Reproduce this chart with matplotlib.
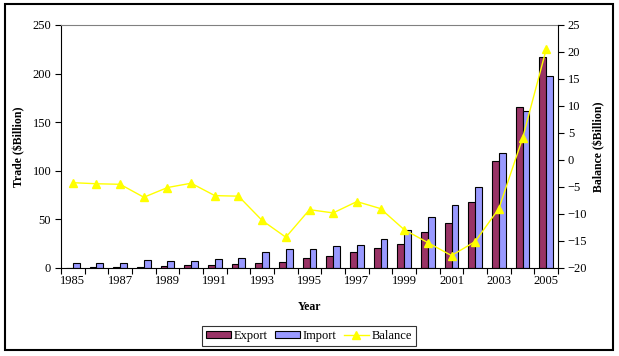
import matplotlib.pyplot as plt
import numpy as np
from matplotlib.patches import Rectangle

years = list(range(1985, 2006))
export = [0.5, 0.8, 1, 1, 2, 3, 3, 4, 5, 6, 10.3, 12, 16, 20.5, 24.7, 37, 46.2, 67.8, 110, 165.4, 217.5]
imports = [5, 5, 5, 8, 7, 7, 9, 10, 16, 20, 19.5, 22.3, 23.3, 29.8, 38.7, 52.4, 64.4, 83.2, 118.2, 161.3, 197.3]
balance = [-4.2, -4.4, -4.5, -6.9, -5.1, -4.3, -6.6, -6.7, -11.2, -14.3, -9.2, -9.8, -7.7, -9.0, -12.9, -15.3, -17.7, -15.1, -9.0, 4.0, 20.5]

plt.rcParams['font.family'] = ['Liberation Serif', 'DejaVu Serif']
plt.rcParams['font.size'] = 9

fig = plt.figure(figsize=(6.19, 3.56), dpi=100)
ax = fig.add_axes([0.0985, 0.2472, 0.803, 0.6826])
x = np.arange(len(years))
w = 0.29

b1 = ax.bar(x - w / 2, export, w, color='#993366', edgecolor='black', linewidth=0.8, label='Export')
b2 = ax.bar(x + w / 2, imports, w, color='#9999FF', edgecolor='black', linewidth=0.8, label='Import')
ax.set_xlim(-0.5, len(years) - 0.5)
ax.set_ylim(0, 250)
ax.set_yticks(range(0, 251, 50))
ax.set_xticks(np.arange(-0.5, len(years), 1))
ax.set_xticklabels([])
ax.set_xticks(x[::2], minor=True)
ax.set_xticklabels([str(y) for y in years[::2]], minor=True)
ax.tick_params(axis='x', which='minor', length=0, pad=5)
ax.tick_params(axis='x', which='major', length=4, direction='out')
ax.tick_params(axis='y', length=4, direction='out', pad=3)
ax.spines['top'].set_color('#808080')
ax.spines['right'].set_visible(False)
ax.set_ylabel('Trade ($Billion)', fontweight='bold', fontsize=8.5)
ax.yaxis.set_label_coords(-0.072, 0.5)
ax.set_xlabel('Year', fontweight='bold', fontsize=8.5)
ax.xaxis.set_label_coords(0.5, -0.135)

ax2 = ax.twinx()
l1, = ax2.plot(x, balance, color='#FFFF00', marker='^', markersize=5.5, linewidth=1, label='Balance')
ax2.set_ylim(-20, 25)
ax2.set_yticks(range(-20, 26, 5))
ax2.tick_params(axis='y', length=4, direction='out', pad=3)
ax2.spines['top'].set_visible(False)
ax2.spines['left'].set_visible(False)
ax2.spines['bottom'].set_visible(False)
ax2.set_ylabel('Balance ($Billion)', fontweight='bold', fontsize=8.5)
ax2.yaxis.set_label_coords(1.07, 0.5)

leg = fig.legend([b1, b2, l1], ['Export', 'Import', 'Balance'], loc='center', bbox_to_anchor=(0.499, 0.056),
                 ncol=3, frameon=True, fancybox=False, edgecolor='black', handlelength=2.0,
                 handleheight=0.5, handletextpad=0.2, columnspacing=0.6, borderpad=0.3, fontsize=9)
leg.get_frame().set_linewidth(0.8)

fig.patches.append(Rectangle((0.008, 0.017), 0.982, 0.972, transform=fig.transFigure,
                             fill=False, edgecolor='black', linewidth=1.5))

fig.savefig('out.png', dpi=100)
